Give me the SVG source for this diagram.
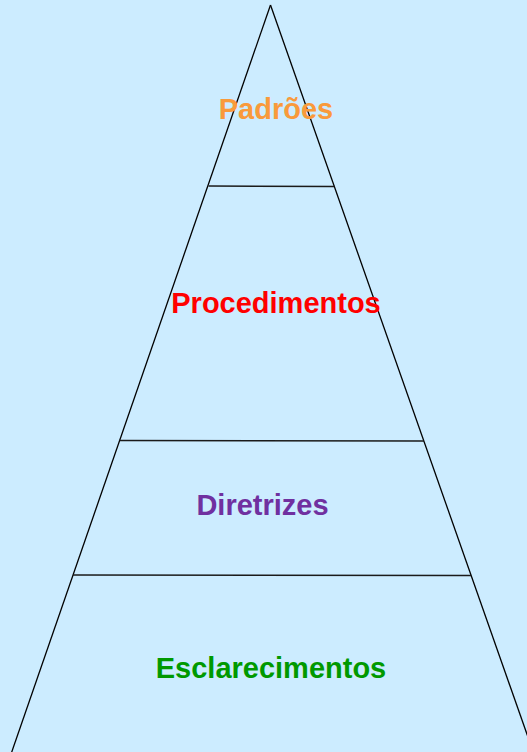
<svg xmlns="http://www.w3.org/2000/svg" width="527" height="752" viewBox="0 0 527 752">
<style>
.edge{stroke:#000;stroke-width:1.3;fill:none}
.div{stroke:#1a1a1a;stroke-width:1.4;fill:none}
.lbl{font-family:"Liberation Sans",Arial,sans-serif;font-weight:bold;font-size:29px;text-anchor:middle}
</style>
<rect width="527" height="752" fill="#CCECFF"/>
<g id="connectors">
<line class="edge" x1="270.5" y1="5" x2="10" y2="757"/>
<line class="edge" x1="270.5" y1="5" x2="535" y2="757"/>
<line class="div" x1="208.5" y1="186" x2="334.5" y2="186.5"/>
<line class="div" x1="119.5" y1="440.5" x2="424" y2="441"/>
<line class="div" x1="73" y1="575" x2="471" y2="575.5"/>
</g>
<g id="padroes"><text class="lbl" x="276" y="119" fill="#F99A3B">Padrões</text></g>
<g id="procedimentos"><text class="lbl" x="276" y="313" fill="#FF0000">Procedimentos</text></g>
<g id="diretrizes"><text class="lbl" x="262.5" y="515" fill="#7030A0">Diretrizes</text></g>
<g id="esclarecimentos"><text class="lbl" x="271" y="678" fill="#009900">Esclarecimentos</text></g>
</svg>
